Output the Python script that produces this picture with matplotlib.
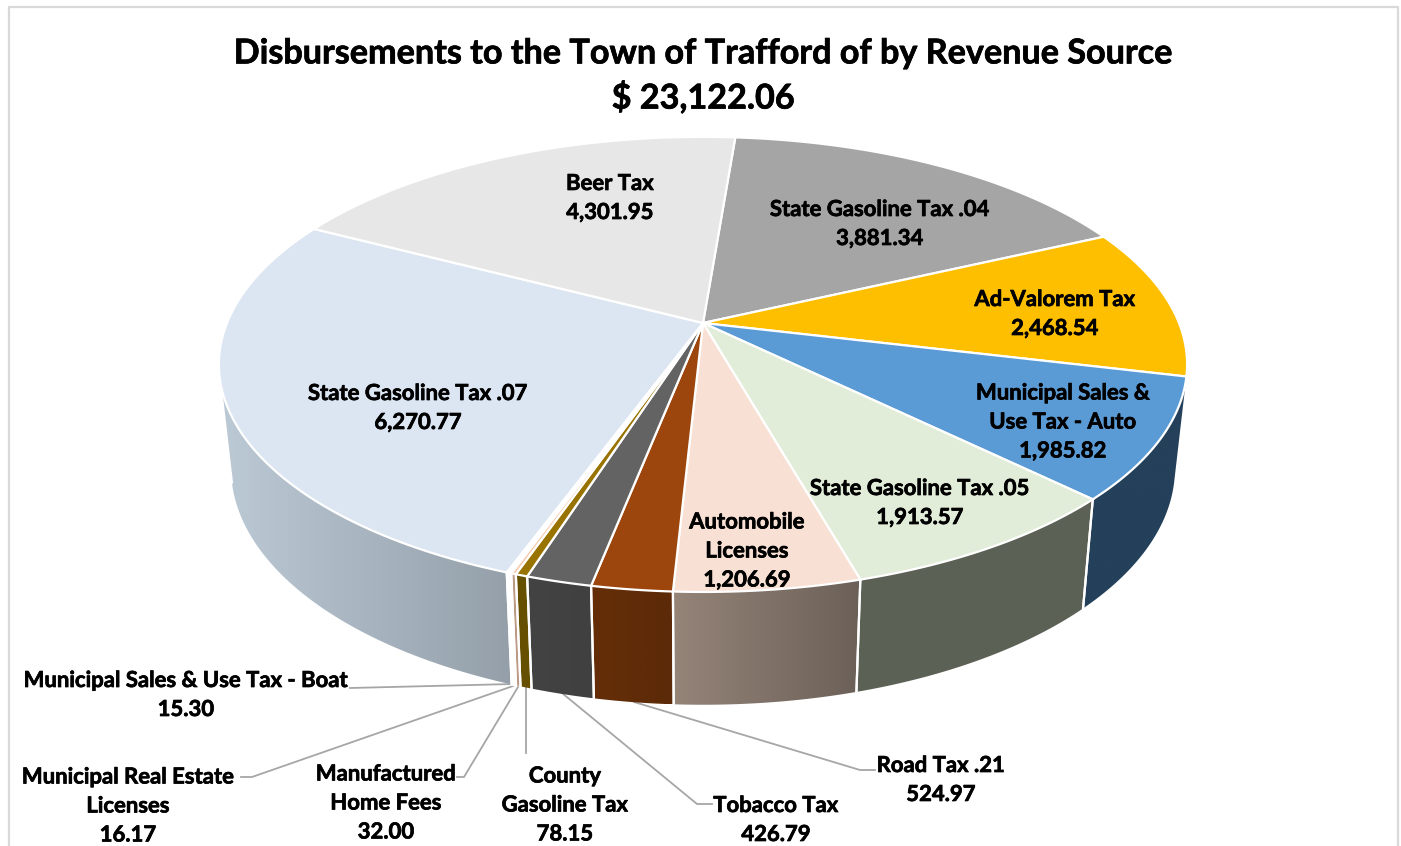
import numpy as np
import matplotlib
matplotlib.use("Agg")
import matplotlib.pyplot as plt
import matplotlib.patheffects as pe
from matplotlib.colors import to_rgb
from matplotlib.patches import Polygon

title = "Disbursements to the Town of Trafford of by Revenue Source\n$ 23,122.06"

names = ["State Gasoline Tax .04", "Ad-Valorem Tax", "Municipal Sales &\nUse Tax - Auto",
         "State Gasoline Tax .05", "Automobile\nLicenses", "Road Tax .21", "Tobacco Tax",
         "County\nGasoline Tax", "Manufactured\nHome Fees", "Municipal Real Estate\nLicenses",
         "Municipal Sales & Use Tax - Boat", "State Gasoline Tax .07", "Beer Tax"]
values = [3881.34, 2468.54, 1985.82, 1913.57, 1206.69, 524.97, 426.79,
          78.15, 32.00, 16.17, 15.30, 6270.77, 4301.95]

top_colors = ["#A5A5A5", "#FDBF00", "#5B9BD5", "#E2EDD9", "#F8E1D4", "#9C450C", "#636363",
              "#997300", "#F6CDB0", "#FFFFFF", "#FFFFFF", "#DCE6F2", "#E7E7E7"]
wall_left = ["#5A5A5A", "#8A6A00", "#24405A", "#5B6155", "#958478", "#652E08", "#434343",
             "#665000", "#BC9A85", "#FFFFFF", "#FFFFFF", "#BCCAD6", "#777777"]
wall_right = ["#5A5A5A", "#8A6A00", "#24405A", "#5B6155", "#6B6058", "#5C2A08", "#404040",
              "#665000", "#BC9A85", "#FFFFFF", "#FFFFFF", "#949FA9", "#777777"]

label_xy = [(880, 224), (1055, 314), (1063, 422), (920, 503), (747, 551), (941, 780), (776, 820),
            (565, 805), (386, 803), (128, 806), (186, 695), (418, 408), (610, 198)]

leaders = [[(875, 770), (860, 770), (634, 702)],
           [(712, 804), (697, 804), (562, 693)],
           [(526, 753), (526, 687)],
           [(457, 777), (464, 777), (518, 687)],
           [(241, 777), (252, 777), (513, 686)],
           [(350, 688), (513, 684)]]

cx, cy = 703, 323
A, B, k = 476, 220, 0.182
start = 4.6


def project(theta):
    u = np.sin(np.radians(theta))
    v = np.cos(np.radians(theta))
    w = 1 + k * v
    return cx + A * u / w, cy - B * v / w


def drop(x, y):
    return cx + 0.975 * (x - cx), y + 109 + (y - 497) * 0.04


def arc(i):
    n = max(int(edges[i + 1] - edges[i]) * 4, 4) + 1
    return np.linspace(edges[i], edges[i + 1], n)


fig = plt.figure(figsize=(14.01, 8.46), dpi=100)
ax = fig.add_axes([0, 0, 1, 1])
ax.axis("off")

plt.rcParams["font.family"] = ["Lato", "DejaVu Sans"]

ax.plot([8.5, 8.5, 1398, 1398], [846, 7.5, 7.5, 846], color="#D9D9D9", lw=1.6)

edges = start + np.cumsum([0] + values) / sum(values) * 360

# side walls, back to front
mid = (edges[:-1] + edges[1:]) / 2
for i in np.argsort(-np.cos(np.radians(mid))):
    th = arc(i)
    x, y = project(th)
    xb, yb = drop(x, y)
    # keep only the part of the arc that faces the viewer
    cross = np.diff(x) * (yb - y)[:-1] - np.diff(y) * (xb - x)[:-1]
    keep = np.r_[cross < 0, cross[-1] < 0]
    if keep.sum() < 2:
        continue
    th, x, y, xb, yb = th[keep], x[keep], y[keep], xb[keep], yb[keep]
    c1 = np.array(to_rgb(wall_left[i]))
    c2 = np.array(to_rgb(wall_right[i]))
    poly = np.c_[np.r_[x, xb[::-1]], np.r_[y, yb[::-1]]]
    xmin, xmax = poly[:, 0].min(), poly[:, 0].max()
    ymin, ymax = poly[:, 1].min(), poly[:, 1].max()
    grad = np.linspace(0, 1, 256)[None, :, None] * (c2 - c1) + c1
    im = ax.imshow(grad, extent=(xmin, xmax, ymax, ymin), aspect="auto", zorder=2,
                   interpolation="bilinear")
    patch = Polygon(poly, closed=True, facecolor="none", edgecolor="none", transform=ax.transData)
    ax.add_patch(patch)
    im.set_clip_path(patch)
    for t, px, py, qx, qy in [(th[0], x[0], y[0], xb[0], yb[0]), (th[-1], x[-1], y[-1], xb[-1], yb[-1])]:
        if 108 < t < 270:
            ax.plot([px, qx], [py, qy], color="white", lw=1.6, zorder=3)

# top faces
for i in range(len(values)):
    x, y = project(arc(i))
    ax.fill(np.r_[cx, x], np.r_[cy, y], facecolor=top_colors[i], edgecolor="white", lw=1.6, zorder=4)

for pts in leaders:
    ax.plot([p[0] for p in pts], [p[1] for p in pts], color="#A6A6A6", lw=1.3, zorder=1)

bold = [pe.withStroke(linewidth=0.5, foreground="black")]
for name, val, (tx, ty) in zip(names, values, label_xy):
    ax.text(tx, ty, f"{name}\n{val:,.2f}", ha="center", va="center", fontsize=15.9,
            fontweight="bold", color="black", linespacing=1.47, zorder=6, path_effects=bold)

ax.text(703, 76, title, ha="center", va="center", fontsize=24.6, fontweight="bold",
        color="black", linespacing=1.4, zorder=6, path_effects=bold)

ax.set_xlim(0, 1401)
ax.set_ylim(846, 0)

fig.savefig("out.png", dpi=100)
